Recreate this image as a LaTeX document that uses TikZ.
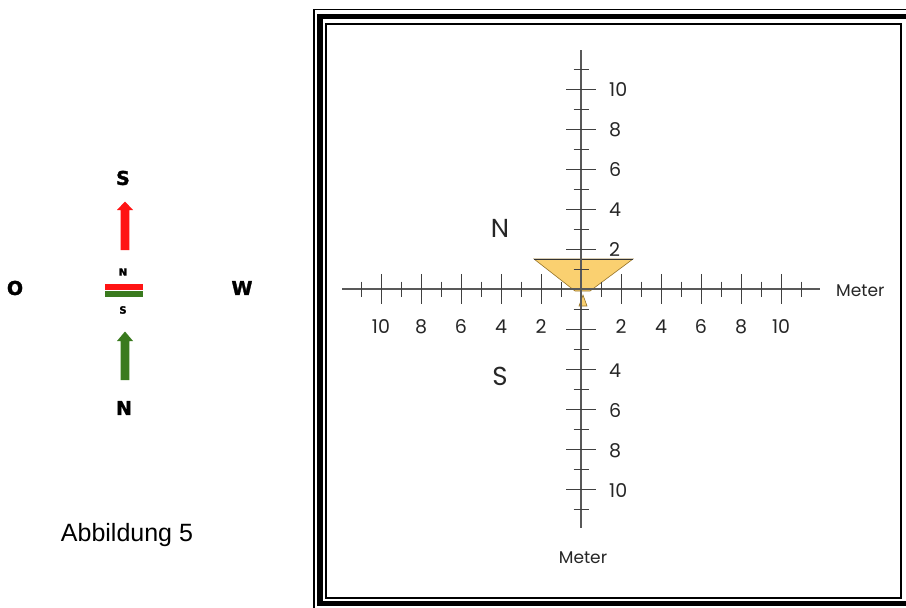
\documentclass[tikz,border=0pt]{standalone}
\usepackage{fontspec}
\setmainfont{Liberation Sans}
\newfontfamily\geo{Poppins}
\newfontfamily\heavy[BoldFeatures={FakeBold=1.6}]{DejaVu Sans}
\definecolor{tri}{RGB}{250,208,112}
\definecolor{triline}{RGB}{150,115,40}
\definecolor{magred}{RGB}{255,20,20}
\definecolor{maggreen}{RGB}{58,122,30}
\begin{document}
\begin{tikzpicture}[x=1pt,y=-1pt,
  axisline/.style={draw=black!65, line width=1.1pt},
  tickline/.style={draw=black!75, line width=1pt},
  num/.style={font=\geo\fontsize{19}{19}\selectfont, text=black!85, inner sep=0pt},
  bigletter/.style={font=\geo\fontsize{26}{26}\selectfont, text=black!85, inner sep=0pt},
  meter/.style={font=\geo\fontsize{17}{17}\selectfont, text=black!85, inner sep=0pt},
  compass/.style={font=\heavy\bfseries\fontsize{19}{19}\selectfont, inner sep=0pt},
  minilabel/.style={font=\heavy\bfseries\fontsize{10}{10}\selectfont, inner sep=0pt},
  caption/.style={font=\fontsize{25}{25}\selectfont, inner sep=0pt}]
\useasboundingbox (0,0) rectangle (906,608);
\fill[white] (0,0) rectangle (906,608);
% ---- frame ----
\begin{scope}
\clip (0,0) rectangle (906,608);
\draw[line width=1.5pt] (314,9.5) rectangle (916,610);
\draw[line width=5.5pt] (320,16.5) rectangle (910,603.5);
\draw[line width=2pt] (326,23.5) rectangle (901,598);
\end{scope}
% ---- yellow trapezoid and small triangle ----
\filldraw[fill=tri, draw=triline, line width=0.6pt] (534,259) -- (633,259) -- (590,291) -- (575,291) -- cycle;
\draw[black!80, line width=0.8pt] (534,259) -- (633,259);
\filldraw[fill=tri, draw=triline, line width=0.6pt] (583,295) -- (587,306) -- (579,306) -- cycle;
% ---- axes ----
\coordinate (o) at (581,289);
\coordinate (xl) at (342,289);
\coordinate (xr) at (820,289);
\coordinate (yt) at (581,50);
\coordinate (yb) at (581,528);
\draw[axisline] (xl) -- (xr);
\draw[axisline] (yt) -- (yb);
\foreach \k in {1,...,11}{
  \ifodd\k \def\len{7.5}\else\def\len{15}\fi
  \draw[tickline] (581+20*\k, 289-\len) -- (581+20*\k, 289+\len);
  \draw[tickline] (581-20*\k, 289-\len) -- (581-20*\k, 289+\len);
  \draw[tickline] (581-\len, 289-20*\k) -- (581+\len, 289-20*\k);
  \draw[tickline] (581-\len, 289+20*\k) -- (581+\len, 289+20*\k);
}
% ---- numbers ----
\foreach \k in {2,4,...,10}{
  \node[num] (xr\k) at (581+20*\k, 327) {\k};
  \node[num] (xl\k) at (581-20*\k, 327) {\k};
  \node[num, anchor=west] (yt\k) at (609, 290-20*\k) {\k};
}
\foreach \k in {4,6,8,10}{
  \node[num, anchor=west] (yb\k) at (609, 291+20*\k) {\k};
}
\node[meter, anchor=west] (meterx) at (836,291) {Meter};
\node[meter] (metery) at (583,558) {Meter};
\node[bigletter] (bigN) at (500,228) {N};
\node[bigletter] (bigS) at (500,376) {S};
% ---- compass on the left ----
\node[compass] (cS) at (123,178) {S};
\node[compass] (cO) at (15,288) {O};
\node[compass] (cW) at (242,288) {W};
\node[compass] (cN) at (124,408) {N};
\node[minilabel] (mN) at (123,272) {N};
\node[minilabel] (mS) at (123,310) {S};
\fill[magred] (120.7,250) -- (120.7,210) -- (117,210) -- (125,201.5) -- (133,210) -- (129.3,210) -- (129.3,250) -- cycle;
\fill[maggreen] (120.7,380) -- (120.7,341) -- (117,341) -- (125,331.5) -- (133,341) -- (129.3,341) -- (129.3,380) -- cycle;
\fill[magred] (105,284) rectangle (143,290.2);
\fill[maggreen] (105,291.4) rectangle (143,297);
\node[caption, anchor=base] (cap) at (127,541) {Abbildung 5};
\end{tikzpicture}
\end{document}
